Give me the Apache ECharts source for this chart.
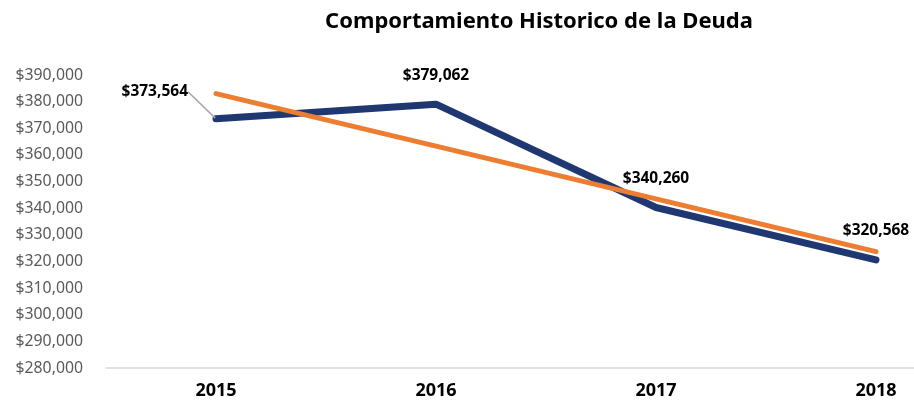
<!DOCTYPE html>
<html>
<head>
<meta charset="utf-8">
<script src="https://cdn.jsdelivr.net/npm/echarts@6/dist/echarts.min.js"></script>
<style>
  html, body { margin: 0; padding: 0; background: #fff; }
  #chart { width: 914px; height: 403px; }
</style>
</head>
<body>
<div id="chart"></div>
<script>
const years = ['2015', '2016', '2017', '2018'];
const deuda = [373564, 379062, 340260, 320568];
// linear trend line
const tendencia = [383000, 363300, 343500, 323700];

let money = (value) => '$' + value.toLocaleString('en-US');

const chart = echarts.init(document.getElementById('chart'));

const deudaData = deuda.map((v, i) => {
    if (i === 0) {
        return {
            value: v,
            label: { position: 'left', distance: 16 },
            labelLine: {
                show: true,
                lineStyle: { color: '#A6A6A6', width: 1.5 }
            }
        };
    }
    return v;
});

chart.setOption({
    animation: false,
    title: {
        text: 'Comportamiento Historico de la Deuda',
        left: 534,
        top: 6,
        textAlign: 'center',
        textStyle: {
            fontFamily: 'Noto Sans',
            fontWeight: 'bold',
            fontSize: 22,
            color: '#000'
        }
    },
    grid: {
        left: 106,
        width: 880,
        top: 75,
        height: 293,
        outerBoundsMode: 'none',
        containLabel: false
    },
    xAxis: {
        type: 'category',
        data: years,
        boundaryGap: true,
        axisLine: { lineStyle: { color: '#D9D9D9', width: 1.5 } },
        axisTick: { show: false },
        axisLabel: {
            color: '#000',
            fontFamily: 'Noto Sans',
            fontWeight: 'bold',
            fontSize: 18,
            margin: 14
        }
    },
    yAxis: {
        type: 'value',
        min: 280000,
        max: 390000,
        interval: 10000,
        splitLine: { show: false },
        axisLine: { show: false },
        axisTick: { show: false },
        axisLabel: {
            formatter: money,
            color: '#595959',
            fontFamily: 'Noto Sans',
            fontSize: 15.8,
            margin: 23
        }
    },
    series: [
        {
            name: 'Deuda',
            type: 'line',
            data: deudaData,
            symbol: 'circle',
            symbolSize: 2,
            showSymbol: true,
            itemStyle: { color: '#1F3872' },
            lineStyle: { color: '#1F3872', width: 7, cap: 'round', join: 'round' },
            label: {
                show: true,
                position: 'top',
                distance: 20,
                formatter: (p) => money(p.value),
                color: '#000',
                fontFamily: 'Noto Sans',
                fontWeight: 'bold',
                fontSize: 15.5
            },
            labelLine: { show: false },
            labelLayout: function (params) {
                if (params.dataIndex === 0) {
                    return { dx: -11, dy: -27 };
                }
                return {};
            },
            z: 2
        },
        {
            name: 'Tendencia',
            type: 'line',
            data: tendencia,
            symbol: 'none',
            lineStyle: { color: '#ED7D31', width: 5, cap: 'round' },
            z: 3
        }
    ]
});
</script>
</body>
</html>
